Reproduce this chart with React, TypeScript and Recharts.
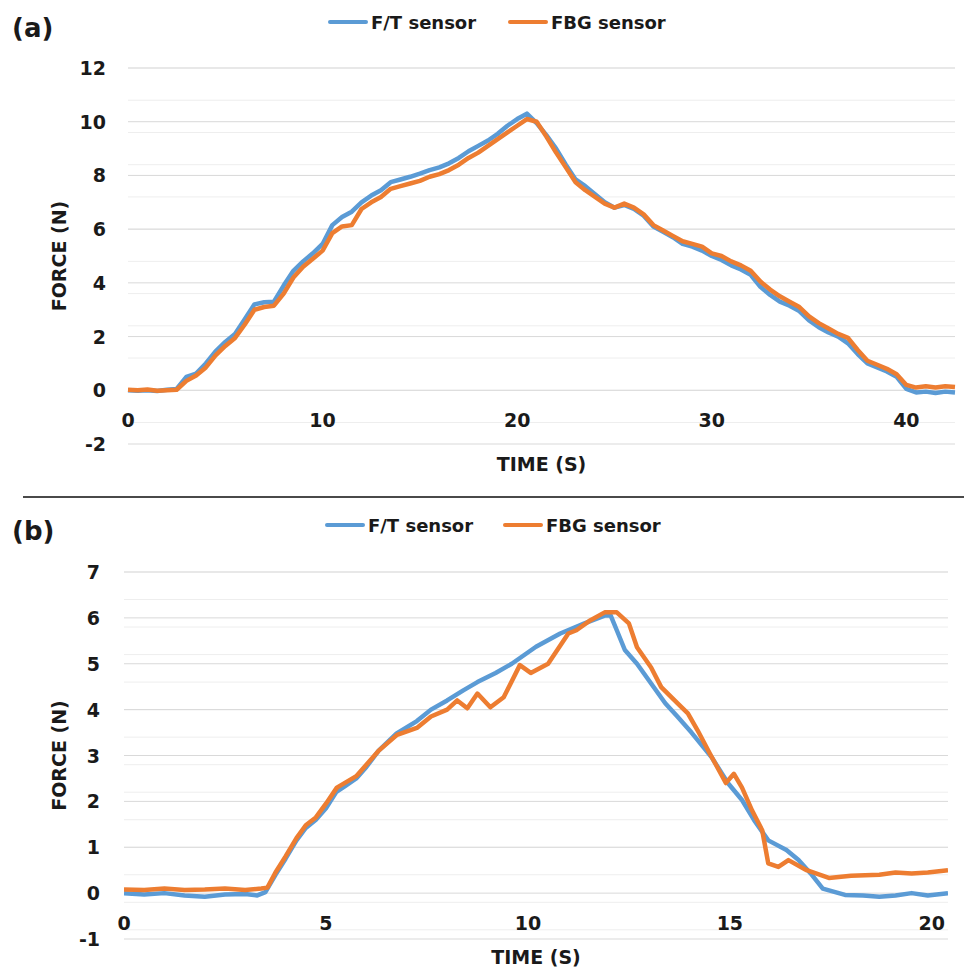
import { CartesianGrid, Line, LineChart, XAxis, YAxis } from 'recharts';

const FONT = '"DejaVu Sans", "Open Sans", sans-serif';
const INK = '#1a1a1a';
const BLUE = '#5B9BD5';
const ORANGE = '#ED7D31';

const seriesNames = ['F/T sensor', 'FBG sensor'];
const seriesColors = [BLUE, ORANGE];

// ---- panel (a) ----
const timeA = [
  0, 0.5, 1, 1.5, 2, 2.5, 3, 3.5, 4, 4.5,
  5, 5.5, 6, 6.5, 7, 7.5, 8, 8.5, 9, 9.5,
  10, 10.5, 11, 11.5, 12, 12.5, 13, 13.5, 14, 14.5,
  15, 15.5, 16, 16.5, 17, 17.5, 18, 18.5, 19, 19.5,
  20, 20.5, 21, 21.5, 22, 22.5, 23, 23.5, 24, 24.5,
  25, 25.5, 26, 26.5, 27, 27.5, 28, 28.5, 29, 29.5,
  30, 30.5, 31, 31.5, 32, 32.5, 33, 33.5, 34, 34.5,
  35, 35.5, 36, 36.5, 37, 37.5, 38, 38.5, 39, 39.5,
  40, 40.5, 41, 41.5, 42, 42.5,
];
const ftA = [
  0.0, -0.02, 0.0, -0.03, 0.02, 0.05, 0.5, 0.62, 1.0, 1.45,
  1.8, 2.1, 2.65, 3.2, 3.28, 3.3, 3.9, 4.45, 4.8, 5.1,
  5.45, 6.15, 6.45, 6.65, 7.0, 7.25, 7.45, 7.75, 7.85, 7.95,
  8.07, 8.2, 8.3, 8.45, 8.65, 8.9, 9.1, 9.3, 9.55, 9.85,
  10.1, 10.3, 9.95, 9.5, 9.0, 8.4, 7.85, 7.6, 7.3, 7.0,
  6.8, 6.9, 6.75, 6.5, 6.1, 5.9, 5.7, 5.45, 5.35, 5.2,
  5.0, 4.85, 4.65, 4.5, 4.3, 3.85, 3.55, 3.3, 3.15, 2.95,
  2.6, 2.35, 2.15, 2.0, 1.75, 1.35, 1.0, 0.85, 0.7, 0.5,
  0.05, -0.08, -0.05, -0.1, -0.05, -0.08,
];
const fbgA = [
  0.02, 0.0, 0.03, -0.02, 0.0, 0.02, 0.35, 0.55, 0.85, 1.3,
  1.65, 1.95, 2.45, 3.0, 3.1, 3.15, 3.6, 4.2, 4.6, 4.9,
  5.2, 5.85, 6.1, 6.15, 6.75, 7.0, 7.2, 7.5, 7.6, 7.7,
  7.8, 7.95, 8.05, 8.2, 8.4, 8.65, 8.85, 9.1, 9.35, 9.6,
  9.85, 10.1, 10.0, 9.45, 8.85, 8.3, 7.75, 7.45, 7.2, 6.95,
  6.8, 6.95, 6.8, 6.55, 6.15, 5.95, 5.75, 5.55, 5.45, 5.35,
  5.1, 5.0, 4.8, 4.65, 4.45, 4.05, 3.75, 3.5, 3.3, 3.1,
  2.75, 2.5, 2.3, 2.1, 1.95, 1.5, 1.1, 0.95, 0.8, 0.6,
  0.2, 0.1, 0.15, 0.1, 0.15, 0.12,
];
const xTicksA = [0, 10, 20, 30, 40];
const yTicksA = [-2, 0, 2, 4, 6, 8, 10, 12];

// ---- panel (b) ----
const timeFtB = [
  0, 0.5, 1, 1.5, 2, 2.5, 3, 3.3, 3.5, 3.75,
  4, 4.27, 4.5, 4.75, 5, 5.25, 5.5, 5.75, 6, 6.3,
  6.75, 7.25, 7.6, 8, 8.4, 8.75, 9.2, 9.6, 10.2, 10.8,
  11.4, 11.9, 12.05, 12.2, 12.4, 12.7, 13.05, 13.4, 13.7, 14.05,
  14.55, 14.95, 15.3, 15.6, 15.95, 16.4, 16.7, 17, 17.3, 17.85,
  18.3, 18.7, 19.1, 19.5, 19.9, 20.4,
];
const ftB = [
  0.0, -0.03, 0.0, -0.05, -0.08, -0.03, -0.02, -0.05, 0.02, 0.4,
  0.75, 1.15, 1.42, 1.6, 1.85, 2.2, 2.35, 2.5, 2.75, 3.1,
  3.48, 3.75, 4.0, 4.2, 4.42, 4.6, 4.8, 5.0, 5.37, 5.66,
  5.88, 6.05, 6.05, 5.73, 5.3, 5.0, 4.57, 4.14, 3.85, 3.5,
  2.96, 2.4, 2.03, 1.59, 1.15, 0.94, 0.72, 0.43, 0.1, -0.04,
  -0.05, -0.08, -0.05, 0.0, -0.05, 0.0,
];
const timeFbgB = [
  0, 0.5, 1, 1.5, 2, 2.5, 3, 3.4, 3.55, 3.75,
  4, 4.27, 4.5, 4.75, 5, 5.27, 5.5, 5.75, 6, 6.3,
  6.76, 7.25, 7.6, 8, 8.25, 8.5, 8.75, 9.07, 9.4, 9.8,
  10.07, 10.5, 11, 11.2, 11.55, 11.9, 12.2, 12.5, 12.7, 13.05,
  13.3, 13.7, 13.96, 14.2, 14.5, 14.9, 15.1, 15.3, 15.55, 15.8,
  15.95, 16.2, 16.45, 16.9, 17.45, 18, 18.7, 19.1, 19.5, 19.9,
  20.4,
];
const fbgB = [
  0.08, 0.07, 0.1, 0.07, 0.08, 0.1, 0.07, 0.1, 0.12, 0.45,
  0.8, 1.2, 1.48, 1.65, 1.95, 2.3, 2.42, 2.55, 2.8, 3.1,
  3.45, 3.6, 3.85, 4.0, 4.2, 4.03, 4.35, 4.05, 4.27, 4.97,
  4.8, 5.0, 5.66, 5.73, 5.95, 6.12, 6.12, 5.88, 5.36, 4.92,
  4.49, 4.14, 3.92, 3.55, 3.05, 2.4, 2.6, 2.3, 1.8, 1.37,
  0.65, 0.57, 0.72, 0.5, 0.33, 0.38, 0.4, 0.45, 0.43, 0.45,
  0.5,
];
const xTicksB = [0, 5, 10, 15, 20];
const yTicksB = [-1, 0, 1, 2, 3, 4, 5, 6, 7];

// minor gridline positions (Excel style, 5 per major step)
function gridSteps(from: number, to: number, step: number) {
  const out: number[] = [];
  for (let v = from; v <= to + 1e-9; v += step) out.push(Math.round(v * 100) / 100);
  return out;
}

const rowsA = timeA.map((t, i) => ({ t, ft: ftA[i], fbg: fbgA[i] }));
const rowsFtB = timeFtB.map((t, i) => ({ t, v: ftB[i] }));
const rowsFbgB = timeFbgB.map((t, i) => ({ t, v: fbgB[i] }));

const tickText = { fontFamily: FONT, fontWeight: 'bold' as const, fontSize: 19, fill: INK };
const titleText = { fontFamily: FONT, fontWeight: 'bold' as const, fontSize: 19, fill: INK };

function xTick(lift: number) {
  return (p: any) => (
    <text x={p.x} y={p.y - lift} textAnchor="middle" dominantBaseline="central" {...tickText}>
      {p.payload.value}
    </text>
  );
}

function yTick(gap: number) {
  return (p: any) => (
    <text x={p.x - gap} y={p.y} textAnchor="end" dominantBaseline="central" {...tickText}>
      {p.payload.value}
    </text>
  );
}

function SensorLegend({ left, top, itemWidth }: { left: number; top: number; itemWidth: number }) {
  return (
    <div style={{ position: 'absolute', left, top, display: 'flex', height: 24, alignItems: 'center' }}>
      {seriesNames.map((name, i) => (
        <div key={name} style={{ width: itemWidth, display: 'flex', alignItems: 'center' }}>
          <span style={{ width: 40, height: 4, borderRadius: 2, background: seriesColors[i], marginRight: 3 }} />
          <span style={{ fontFamily: FONT, fontWeight: 'bold', fontSize: 18, color: INK }}>{name}</span>
        </div>
      ))}
    </div>
  );
}

function PanelTag({ text, top }: { text: string; top: number }) {
  return (
    <div style={{ position: 'absolute', left: 12, top, fontFamily: FONT, fontWeight: 'bold', fontSize: 26, lineHeight: '30px', color: INK }}>
      {text}
    </div>
  );
}

export default function App() {
  return (
    <div style={{ position: 'absolute', left: 0, top: 0, width: 964, height: 974, background: '#fff', overflow: 'hidden' }}>
      <PanelTag text="(a)" top={13} />
      <SensorLegend left={328} top={10} itemWidth={180} />
      <div style={{ position: 'absolute', left: 0, top: 0 }}>
        <LineChart width={964} height={480} data={rowsA} margin={{ top: 68, right: 9, left: 20, bottom: 0 }}>
          <CartesianGrid vertical={false} stroke="#EEEEEE" horizontalValues={gridSteps(-2, 12, 0.4)} />
          <CartesianGrid vertical={false} stroke="#D9D9D9" horizontalValues={yTicksA} />
          <XAxis
            dataKey="t" type="number" domain={[0, 42.5]} ticks={xTicksA} height={36}
            axisLine={false} tickLine={false} tickSize={0} tickMargin={0} tick={xTick(24)}
            label={{ value: 'TIME (S)', position: 'insideBottom', offset: 9, ...titleText }}
          />
          <YAxis
            type="number" domain={[-2, 12]} ticks={yTicksA} width={108} allowDataOverflow
            axisLine={false} tickLine={false} tickSize={0} tickMargin={0} tick={yTick(22)}
            label={{ value: 'FORCE (N)', angle: -90, position: 'insideLeft', offset: 39, textAnchor: 'middle', ...titleText }}
          />
          <Line type="linear" dataKey="ft" name={seriesNames[0]} stroke={BLUE} strokeWidth={4.5} dot={false} strokeLinejoin="round" isAnimationActive={false} />
          <Line type="linear" dataKey="fbg" name={seriesNames[1]} stroke={ORANGE} strokeWidth={4.5} dot={false} strokeLinejoin="round" isAnimationActive={false} />
        </LineChart>
      </div>

      <div style={{ position: 'absolute', left: 23, top: 496, width: 941, height: 2, background: '#4a4a4a' }} />

      <PanelTag text="(b)" top={516} />
      <SensorLegend left={325} top={513} itemWidth={178} />
      <div style={{ position: 'absolute', left: 0, top: 490 }}>
        <LineChart width={964} height={484} margin={{ top: 82, right: 16, left: 20, bottom: 0 }}>
          <CartesianGrid vertical={false} stroke="#EEEEEE" horizontalValues={gridSteps(-1, 7, 0.2)} />
          <CartesianGrid vertical={false} stroke="#D9D9D9" horizontalValues={yTicksB} />
          <XAxis
            dataKey="t" type="number" domain={[0, 20.4]} ticks={xTicksB} height={35} allowDataOverflow
            axisLine={false} tickLine={false} tickSize={0} tickMargin={0} tick={xTick(16)}
            label={{ value: 'TIME (S)', position: 'insideBottom', offset: 10, ...titleText }}
          />
          <YAxis
            type="number" domain={[-1, 7]} ticks={yTicksB} width={104} allowDataOverflow
            axisLine={false} tickLine={false} tickSize={0} tickMargin={0} tick={yTick(24)}
            label={{ value: 'FORCE (N)', angle: -90, position: 'insideLeft', offset: 39, textAnchor: 'middle', ...titleText }}
          />
          <Line data={rowsFtB} type="linear" dataKey="v" name={seriesNames[0]} stroke={BLUE} strokeWidth={4.5} dot={false} strokeLinejoin="round" isAnimationActive={false} />
          <Line data={rowsFbgB} type="linear" dataKey="v" name={seriesNames[1]} stroke={ORANGE} strokeWidth={4.5} dot={false} strokeLinejoin="round" isAnimationActive={false} />
        </LineChart>
      </div>
    </div>
  );
}
